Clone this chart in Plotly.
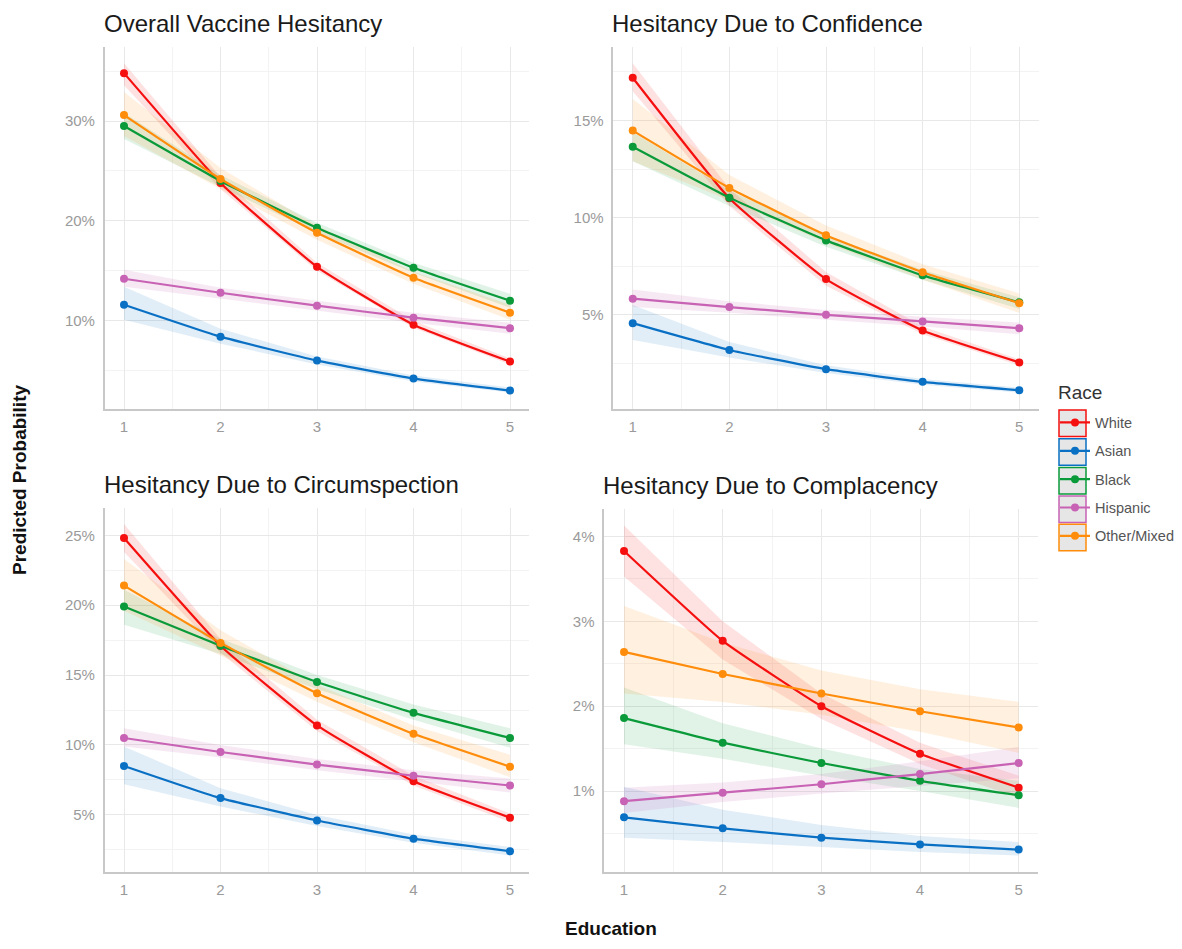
import plotly.graph_objects as go

education = [1, 2, 3, 4, 5]
races = ["White", "Asian", "Black", "Hispanic", "Other/Mixed"]
colors = ["#F50F0F", "#0A70C4", "#0A9A3A", "#C862B4", "#FF8C0A"]
fills = ["rgba(245,15,15,0.12)", "rgba(10,112,196,0.12)", "rgba(10,154,58,0.12)",
         "rgba(200,98,180,0.14)", "rgba(255,140,10,0.13)"]
panel_titles = ["Overall Vaccine Hesitancy", "Hesitancy Due to Confidence",
                "Hesitancy Due to Circumspection", "Hesitancy Due to Complacency"]

# ---- Overall (percent) ----
overall_white = [34.8, 23.8, 15.4, 9.6, 5.9]
overall_white_lo = [33.6, 23.2, 15.0, 9.3, 5.6]
overall_white_hi = [35.8, 24.4, 15.8, 10.0, 6.2]
overall_asian = [11.6, 8.4, 6.0, 4.2, 3.0]
overall_asian_lo = [10.1, 7.7, 5.6, 3.9, 2.8]
overall_asian_hi = [13.4, 9.2, 6.4, 4.5, 3.3]
overall_black = [29.5, 24.0, 19.3, 15.3, 12.0]
overall_black_lo = [28.2, 23.4, 18.8, 14.8, 11.3]
overall_black_hi = [30.8, 24.6, 19.8, 15.8, 12.7]
overall_hispanic = [14.2, 12.8, 11.5, 10.3, 9.25]
overall_hispanic_lo = [13.4, 12.2, 11.0, 9.8, 8.7]
overall_hispanic_hi = [15.1, 13.3, 12.0, 10.8, 9.8]
overall_other = [30.6, 24.2, 18.8, 14.3, 10.8]
overall_other_lo = [28.5, 23.2, 18.1, 13.7, 10.1]
overall_other_hi = [32.9, 25.3, 19.5, 14.9, 11.6]

# ---- Confidence ----
conf_white = [17.2, 11.0, 6.84, 4.19, 2.55]
conf_white_lo = [16.5, 10.6, 6.5, 4.0, 2.4]
conf_white_hi = [17.95, 11.5, 7.2, 4.4, 2.7]
conf_asian = [4.57, 3.19, 2.2, 1.55, 1.12]
conf_asian_lo = [3.7, 2.8, 2.0, 1.4, 1.0]
conf_asian_hi = [5.5, 3.6, 2.4, 1.7, 1.25]
conf_black = [13.65, 11.03, 8.83, 7.03, 5.64]
conf_black_lo = [12.9, 10.6, 8.5, 6.8, 5.3]
conf_black_hi = [14.4, 11.4, 9.1, 7.3, 5.9]
conf_hispanic = [5.83, 5.4, 5.0, 4.66, 4.31]
conf_hispanic_lo = [5.4, 5.1, 4.75, 4.4, 4.0]
conf_hispanic_hi = [6.3, 5.7, 5.25, 4.9, 4.6]
conf_other = [14.48, 11.53, 9.1, 7.19, 5.6]
conf_other_lo = [12.9, 10.9, 8.7, 6.8, 5.1]
conf_other_hi = [16.1, 12.2, 9.6, 7.6, 6.1]

# ---- Circumspection ----
circ_white = [24.8, 17.1, 11.4, 7.4, 4.8]
circ_white_lo = [23.8, 16.6, 11.0, 7.1, 4.5]
circ_white_hi = [25.8, 17.6, 11.8, 7.8, 5.1]
circ_asian = [8.5, 6.2, 4.6, 3.3, 2.4]
circ_asian_lo = [7.2, 5.6, 4.2, 3.0, 2.1]
circ_asian_hi = [9.9, 6.9, 5.0, 3.6, 2.7]
circ_black = [19.9, 17.1, 14.5, 12.3, 10.5]
circ_black_lo = [18.6, 16.5, 14.0, 11.8, 9.8]
circ_black_hi = [21.1, 17.6, 15.0, 12.9, 11.2]
circ_hispanic = [10.5, 9.5, 8.6, 7.8, 7.1]
circ_hispanic_lo = [9.9, 9.1, 8.2, 7.4, 6.6]
circ_hispanic_hi = [11.2, 10.0, 9.0, 8.2, 7.6]
circ_other = [21.4, 17.3, 13.7, 10.8, 8.45]
circ_other_lo = [19.6, 16.4, 13.1, 10.2, 7.7]
circ_other_hi = [23.3, 18.2, 14.3, 11.4, 9.3]

# ---- Complacency ----
comp_white = [3.83, 2.77, 2.0, 1.44, 1.04]
comp_white_lo = [3.53, 2.55, 1.85, 1.32, 0.92]
comp_white_hi = [4.13, 3.0, 2.15, 1.57, 1.18]
comp_asian = [0.69, 0.56, 0.45, 0.37, 0.31]
comp_asian_lo = [0.45, 0.4, 0.34, 0.28, 0.24]
comp_asian_hi = [1.05, 0.78, 0.6, 0.47, 0.4]
comp_black = [1.86, 1.57, 1.33, 1.12, 0.95]
comp_black_lo = [1.55, 1.38, 1.18, 1.0, 0.8]
comp_black_hi = [2.22, 1.8, 1.5, 1.26, 1.12]
comp_hispanic = [0.88, 0.98, 1.08, 1.2, 1.33]
comp_hispanic_lo = [0.74, 0.87, 0.97, 1.06, 1.15]
comp_hispanic_hi = [1.04, 1.1, 1.2, 1.35, 1.52]
comp_other = [2.64, 2.38, 2.15, 1.94, 1.75]
comp_other_lo = [2.15, 2.05, 1.9, 1.7, 1.45]
comp_other_hi = [3.18, 2.75, 2.42, 2.2, 2.05]

panels = [
    [(overall_white, overall_white_lo, overall_white_hi),
     (overall_asian, overall_asian_lo, overall_asian_hi),
     (overall_black, overall_black_lo, overall_black_hi),
     (overall_hispanic, overall_hispanic_lo, overall_hispanic_hi),
     (overall_other, overall_other_lo, overall_other_hi)],
    [(conf_white, conf_white_lo, conf_white_hi),
     (conf_asian, conf_asian_lo, conf_asian_hi),
     (conf_black, conf_black_lo, conf_black_hi),
     (conf_hispanic, conf_hispanic_lo, conf_hispanic_hi),
     (conf_other, conf_other_lo, conf_other_hi)],
    [(circ_white, circ_white_lo, circ_white_hi),
     (circ_asian, circ_asian_lo, circ_asian_hi),
     (circ_black, circ_black_lo, circ_black_hi),
     (circ_hispanic, circ_hispanic_lo, circ_hispanic_hi),
     (circ_other, circ_other_lo, circ_other_hi)],
    [(comp_white, comp_white_lo, comp_white_hi),
     (comp_asian, comp_asian_lo, comp_asian_hi),
     (comp_black, comp_black_lo, comp_black_hi),
     (comp_hispanic, comp_hispanic_lo, comp_hispanic_hi),
     (comp_other, comp_other_lo, comp_other_hi)],
]
y_dticks = [10, 5, 5, 1]

# page is 1182x949; the html body adds an 8px margin, so the figure is drawn 8px in
OFF = 8
W, H = 1182 - OFF, 949 - OFF


def px(X):
    return (X - OFF) / W


def py(Y):
    return 1 - (Y - OFF) / H


# page-pixel boxes of each panel plot area (left, right, top, bottom)
boxes = [(104.7, 529.3, 46.7, 409.0),
         (613.4, 1038.6, 46.7, 409.0),
         (104.7, 529.3, 507.5, 872.0),
         (604.3, 1038.4, 509.0, 872.0)]

FONT = "Liberation Sans, Arial, sans-serif"
fig = go.Figure()
layout = dict(width=W, height=H, margin=dict(l=0, r=0, t=0, b=0),
              plot_bgcolor="white", paper_bgcolor="white",
              font=dict(family=FONT), showlegend=True)

for p, series in enumerate(panels):
    ax = "" if p == 0 else str(p + 1)
    xref, yref = "x" + ax, "y" + ax
    allv = [v for s in series for arr in (s[1], s[2]) for v in arr]
    lo, hi = min(allv), max(allv)
    pad = (hi - lo) * 0.05
    for r, (mean, low, high) in enumerate(series):
        fig.add_trace(go.Scatter(
            x=education + education[::-1], y=high + low[::-1],
            fill="toself", fillcolor=fills[r], line=dict(width=0, color=fills[r]),
            mode="lines", hoverinfo="skip", showlegend=False,
            xaxis=xref, yaxis=yref))
    for r, (mean, low, high) in enumerate(series):
        fig.add_trace(go.Scatter(
            x=education, y=mean, mode="lines+markers", name=races[r],
            line=dict(color=colors[r], width=2.2, shape="spline", smoothing=0.4),
            marker=dict(color=colors[r], size=8),
            showlegend=(p == 0), legendgroup=races[r],
            xaxis=xref, yaxis=yref))
    L, R, T, B = boxes[p]
    d = y_dticks[p]
    layout["xaxis" + ax] = dict(
        domain=[px(L), px(R)], anchor=yref, range=[0.8, 5.2],
        tickvals=education, ticktext=[str(e) for e in education],
        showgrid=True, gridcolor="#e8e8e8", gridwidth=1.2,
        minor=dict(tick0=1.5, dtick=1, showgrid=True, gridcolor="#f3f3f3", gridwidth=1),
        showline=True, linecolor="#c8c8c8", linewidth=1.5,
        zeroline=False, ticks="", ticklabelstandoff=3,
        tickfont=dict(size=15, color="#9a9a9a"))
    layout["yaxis" + ax] = dict(
        domain=[py(B), py(T)], anchor=xref, range=[lo - pad, hi + pad],
        tick0=0, dtick=d, ticksuffix="%",
        showgrid=True, gridcolor="#e8e8e8", gridwidth=1.2,
        minor=dict(tick0=d / 2, dtick=d, showgrid=True, gridcolor="#f3f3f3", gridwidth=1),
        showline=True, linecolor="#c8c8c8", linewidth=1.5,
        zeroline=False, ticks="", ticklabelstandoff=5,
        tickfont=dict(size=15, color="#9a9a9a"))

annotations = []
for p, title in enumerate(panel_titles):
    L, R, T, B = boxes[p]
    annotations.append(dict(text=title, x=px(L - 3), y=py(T - 8), xref="paper", yref="paper",
                            xanchor="left", yanchor="bottom", showarrow=False,
                            font=dict(size=24, color="#1a1a1a")))
annotations.append(dict(text="<b>Predicted Probability</b>", x=px(19), y=py(480),
                        xref="paper", yref="paper", textangle=-90, showarrow=False,
                        xanchor="center", yanchor="middle",
                        font=dict(size=19, color="#111111")))
annotations.append(dict(text="<b>Education</b>", x=px(610.5), y=py(928),
                        xref="paper", yref="paper", showarrow=False,
                        xanchor="center", yanchor="middle",
                        font=dict(size=19, color="#111111")))
annotations.append(dict(text="Race", x=px(1056), y=py(392),
                        xref="paper", yref="paper", showarrow=False,
                        xanchor="left", yanchor="middle",
                        font=dict(size=19, color="#333333")))
layout["annotations"] = annotations

# key boxes behind the legend symbols (ggplot style)
key_centers = [423.3, 452.0, 480.7, 509.2, 537.5]
shapes = []
for r, cy in enumerate(key_centers):
    shapes.append(dict(type="rect", xref="paper", yref="paper",
                       x0=px(1059), x1=px(1086), y0=py(cy + 13.3), y1=py(cy - 13.3),
                       fillcolor="#e6e6e6", line=dict(color=colors[r], width=1.5),
                       layer="below"))
layout["shapes"] = shapes
layout["legend"] = dict(x=px(1055), y=py(406.5), xanchor="left", yanchor="top",
                        font=dict(size=14.5, color="#555555"), bgcolor="rgba(0,0,0,0)",
                        tracegroupgap=6.5, itemwidth=30)
fig.update_layout(**layout)
fig.write_html("out.html")
